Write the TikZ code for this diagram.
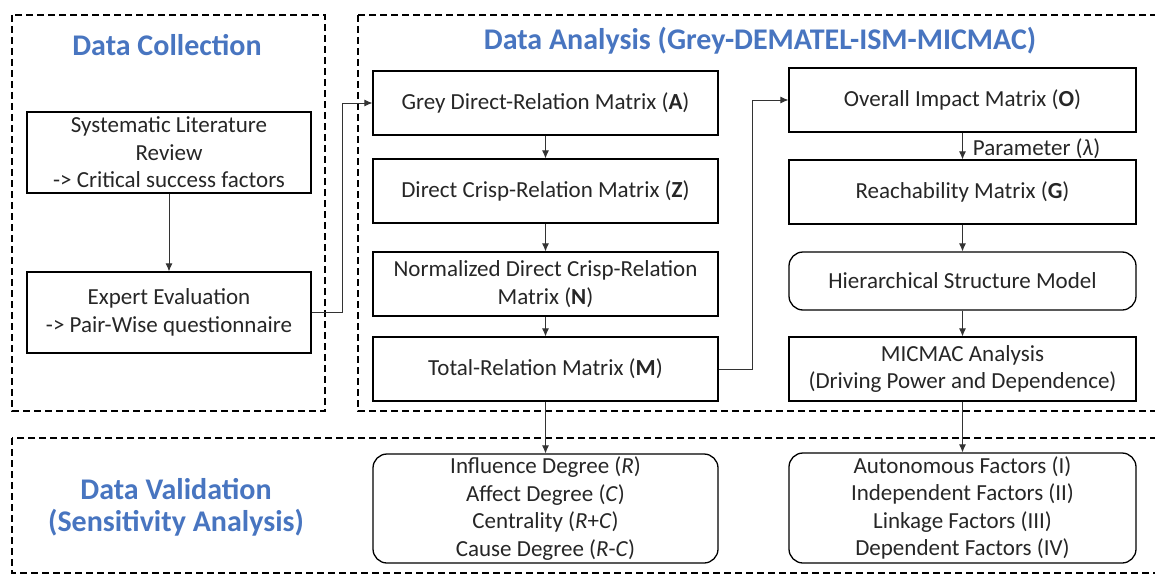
\documentclass[tikz,border=0pt]{standalone}
\usepackage{fontspec}
\setmainfont{Carlito}
\usetikzlibrary{arrows.meta}
\definecolor{titleblue}{RGB}{72,117,192}
\tikzset{
  box/.style={draw=black, line width=1.3pt, align=center, inner sep=0pt,
    font=\fontsize{23}{27.5}\selectfont, text=black!85},
  rbox/.style={box, rounded corners=14pt},
  frame/.style={draw=black, line width=1.5pt, dash pattern=on 7pt off 4pt},
  arr/.style={draw=black!80, line width=0.8pt, -{Latex[length=8pt,width=7pt]}},
  ttl/.style={text=titleblue, font=\fontsize{30}{32}\selectfont\bfseries, align=center, inner sep=0pt}
}
\begin{document}
\begin{tikzpicture}[x=1pt,y=-1pt]
\useasboundingbox (0,0) rectangle (1155,575);
\clip (0,0) rectangle (1155,575);
% frames
\draw[frame] (12,15) rectangle (325,411);
\draw[frame] (358,15) rectangle (1170,411);
\draw[frame] (12,438) rectangle (1170,573);
% titles
\node[ttl] (tDC) at (167,45) {Data Collection};
\node[ttl] (tDA) at (760,41) {Data Analysis (Grey-DEMATEL-ISM-MICMAC)};
\node[ttl] (tDV) at (176,507) {Data Validation\\(Sensitivity Analysis)};
% left column
\node[box, minimum width=284pt, minimum height=81pt] (slr) at (169,152.5)
  {Systematic Literature\\Review\\-> Critical success factors};
\node[box, minimum width=284pt, minimum height=81pt] (exp) at (169,312.5)
  {Expert Evaluation\\-> Pair-Wise questionnaire};
% middle column
\node[box, minimum width=345pt, minimum height=64pt] (A) at (545.5,103) {Grey Direct-Relation Matrix (\textbf{A})};
\node[box, minimum width=345pt, minimum height=64pt] (Z) at (545.5,191) {Direct Crisp-Relation Matrix (\textbf{Z})};
\node[box, minimum width=345pt, minimum height=64pt] (N) at (545.5,284) {Normalized Direct Crisp-Relation\\Matrix (\textbf{N})};
\node[box, minimum width=345pt, minimum height=64pt] (M) at (545.5,369) {Total-Relation Matrix (\textbf{M})};
% right column
\node[box, minimum width=347pt, minimum height=64pt] (O) at (962.5,100) {Overall Impact Matrix (\textbf{O})};
\node[box, minimum width=347pt, minimum height=64pt] (G) at (962.5,192) {Reachability Matrix (\textbf{G})};
\node[rbox, minimum width=347pt, minimum height=58pt] (H) at (962.5,281) {Hierarchical Structure Model};
\node[box, minimum width=347pt, minimum height=64pt] (MIC) at (962.5,369) {MICMAC Analysis\\(Driving Power and Dependence)};
% bottom
\node[rbox, minimum width=345pt, minimum height=109pt] (BL) at (545.5,508.5)
  {Influence Degree (\textit{R})\\Affect Degree (\textit{C})\\Centrality (\textit{R}+\textit{C})\\Cause Degree (\textit{R}-\textit{C})};
\node[rbox, minimum width=347pt, minimum height=110pt] (BR) at (962.5,508)
  {Autonomous Factors (I)\\Independent Factors (II)\\Linkage Factors (III)\\Dependent Factors (IV)};
% connectors
\draw[arr] (slr) -- (exp);
\draw[arr] (exp.east) -- ++(31,0) |- (A.west);
\draw[arr] (A) -- (Z);
\draw[arr] (Z) -- (N);
\draw[arr] (N) -- (M);
\draw[arr] (M.east) -- ++(34,0) |- (O.west);
\draw[arr] (O) -- node[right=9pt, yshift=-3pt, font=\fontsize{23}{27}\selectfont, text=black!85, inner sep=1pt] (lam) {Parameter (\textit{λ})} (G);
\draw[arr] (G) -- (H);
\draw[arr] (H) -- (MIC);
\draw[arr] (M) -- (BL);
\draw[arr] (MIC) -- (BR);
\end{tikzpicture}
\end{document}
